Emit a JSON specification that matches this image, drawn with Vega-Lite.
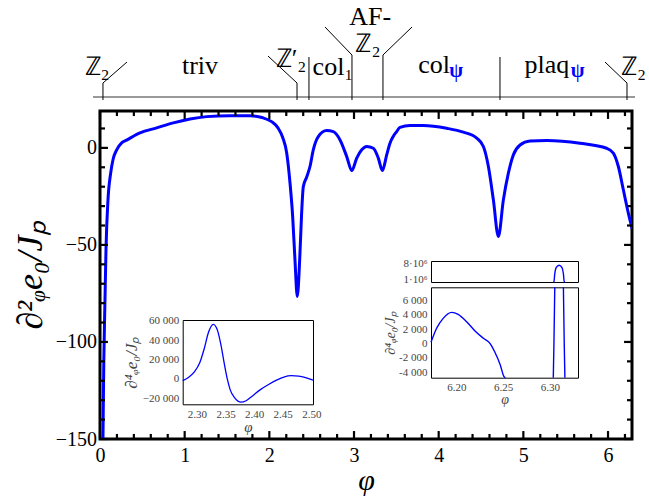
{
  "$schema": "https://vega.github.io/schema/vega-lite/v6.json",
  "width": 532,
  "height": 328,
  "autosize": "none",
  "padding": {"left": 100, "top": 111, "right": 17, "bottom": 57},
  "background": "white",
  "config": {
    "view": {"stroke": "black", "strokeWidth": 3},
    "font": "Liberation Serif",
    "axis": {"grid": false, "labelFont": "Liberation Serif", "titleFont": "Liberation Serif", "titleFontWeight": "normal", "labelOverlap": false, "labelFlush": false},
    "text": {"font": "Liberation Serif"}
  },
  "datasets": {
    "main": [
      {"phi": 0.030, "v": -170}, {"phi": 0.035, "v": -150}, {"phi": 0.045, "v": -110}, {"phi": 0.059, "v": -78},
      {"phi": 0.071, "v": -52}, {"phi": 0.094, "v": -27}, {"phi": 0.126, "v": -13}, {"phi": 0.154, "v": -6},
      {"phi": 0.197, "v": -1}, {"phi": 0.256, "v": 2.6}, {"phi": 0.315, "v": 4}, {"phi": 0.472, "v": 7.7},
      {"phi": 0.669, "v": 10.3}, {"phi": 0.866, "v": 12.9}, {"phi": 1.063, "v": 14.9}, {"phi": 1.260, "v": 16.1},
      {"phi": 1.535, "v": 16.6}, {"phi": 1.772, "v": 16.5}, {"phi": 1.925, "v": 15.5}, {"phi": 2.027, "v": 13.5},
      {"phi": 2.102, "v": 10.3}, {"phi": 2.161, "v": 5}, {"phi": 2.205, "v": -2.6}, {"phi": 2.244, "v": -18},
      {"phi": 2.275, "v": -35}, {"phi": 2.303, "v": -58}, {"phi": 2.330, "v": -76.6}, {"phi": 2.358, "v": -58},
      {"phi": 2.380, "v": -35}, {"phi": 2.401, "v": -20}, {"phi": 2.441, "v": -15}, {"phi": 2.480, "v": -9.6},
      {"phi": 2.519, "v": -1}, {"phi": 2.578, "v": 5.8}, {"phi": 2.677, "v": 8.9}, {"phi": 2.756, "v": 8.4},
      {"phi": 2.835, "v": 4.1}, {"phi": 2.914, "v": -4.5}, {"phi": 2.973, "v": -11.7}, {"phi": 3.032, "v": -5.3},
      {"phi": 3.091, "v": -1}, {"phi": 3.150, "v": 0.7}, {"phi": 3.228, "v": -0.2}, {"phi": 3.287, "v": -5.3},
      {"phi": 3.335, "v": -11.7}, {"phi": 3.386, "v": -3.6}, {"phi": 3.425, "v": 2.4}, {"phi": 3.465, "v": 6},
      {"phi": 3.504, "v": 8.4}, {"phi": 3.543, "v": 10.6}, {"phi": 3.661, "v": 11.5}, {"phi": 3.819, "v": 11.5},
      {"phi": 4.094, "v": 10.1}, {"phi": 4.291, "v": 8.1}, {"phi": 4.449, "v": 5}, {"phi": 4.528, "v": 0.7},
      {"phi": 4.587, "v": -9.6}, {"phi": 4.646, "v": -26.8}, {"phi": 4.705, "v": -45.7}, {"phi": 4.764, "v": -26.8},
      {"phi": 4.823, "v": -13}, {"phi": 4.882, "v": -3.6}, {"phi": 4.961, "v": 1.5}, {"phi": 5.079, "v": 3.6},
      {"phi": 5.276, "v": 3.8}, {"phi": 5.669, "v": 2.4}, {"phi": 5.984, "v": -0.2}, {"phi": 6.063, "v": -2.7},
      {"phi": 6.122, "v": -9.6}, {"phi": 6.181, "v": -21.6}, {"phi": 6.240, "v": -33.6}, {"phi": 6.287, "v": -42}
    ],
    "xMajor": [{"t": 0}, {"t": 1}, {"t": 2}, {"t": 3}, {"t": 4}, {"t": 5}, {"t": 6}],
    "xMinor": [
      {"t": 0.2}, {"t": 0.4}, {"t": 0.6}, {"t": 0.8}, {"t": 1.2}, {"t": 1.4}, {"t": 1.6}, {"t": 1.8},
      {"t": 2.2}, {"t": 2.4}, {"t": 2.6}, {"t": 2.8}, {"t": 3.2}, {"t": 3.4}, {"t": 3.6}, {"t": 3.8},
      {"t": 4.2}, {"t": 4.4}, {"t": 4.6}, {"t": 4.8}, {"t": 5.2}, {"t": 5.4}, {"t": 5.6}, {"t": 5.8}, {"t": 6.2}
    ],
    "yMajor": [{"t": -150}, {"t": -100}, {"t": -50}, {"t": 0}],
    "yMinor": [
      {"t": -140}, {"t": -130}, {"t": -120}, {"t": -110}, {"t": -90}, {"t": -80}, {"t": -70}, {"t": -60},
      {"t": -40}, {"t": -30}, {"t": -20}, {"t": -10}, {"t": 10}
    ],
    "ins1": [
      {"phi": 2.275, "v": -1700}, {"phi": 2.285, "v": 1500}, {"phi": 2.295, "v": 7000}, {"phi": 2.305, "v": 17000},
      {"phi": 2.313, "v": 32000}, {"phi": 2.320, "v": 48000}, {"phi": 2.3285, "v": 56500}, {"phi": 2.336, "v": 50000},
      {"phi": 2.342, "v": 35000}, {"phi": 2.348, "v": 15000}, {"phi": 2.353, "v": 0}, {"phi": 2.358, "v": -11000},
      {"phi": 2.366, "v": -19500}, {"phi": 2.377, "v": -24000}, {"phi": 2.386, "v": -22500}, {"phi": 2.397, "v": -17500},
      {"phi": 2.411, "v": -11000}, {"phi": 2.426, "v": -5500}, {"phi": 2.440, "v": -1000}, {"phi": 2.452, "v": 2000},
      {"phi": 2.465, "v": 3400}, {"phi": 2.478, "v": 3000}, {"phi": 2.490, "v": 1500}, {"phi": 2.503, "v": -1200}
    ],
    "ins2": [
      {"phi": 6.173, "v": 170, "s": "curve"}, {"phi": 6.179, "v": 2130, "s": "curve"}, {"phi": 6.186, "v": 3520, "s": "curve"},
      {"phi": 6.195, "v": 4360, "s": "curve"}, {"phi": 6.202, "v": 4080, "s": "curve"}, {"phi": 6.211, "v": 3050, "s": "curve"},
      {"phi": 6.220, "v": 1750, "s": "curve"}, {"phi": 6.229, "v": 730, "s": "curve"}, {"phi": 6.236, "v": 30, "s": "curve"},
      {"phi": 6.241, "v": -1150, "s": "curve"}, {"phi": 6.247, "v": -3000, "s": "curve"}, {"phi": 6.251, "v": -4640, "s": "curve"},
      {"phi": 6.2525, "v": -5600, "s": "curve"},
      {"phi": 6.3036, "v": -6000000, "s": "rise"}, {"phi": 6.3043, "v": 0, "s": "rise"}, {"phi": 6.3052, "v": 3500000, "s": "rise"},
      {"phi": 6.3068, "v": 6300000, "s": "top"}, {"phi": 6.3098, "v": 7300000, "s": "top"}, {"phi": 6.3128, "v": 6300000, "s": "top"},
      {"phi": 6.3144, "v": 3500000, "s": "fall"}, {"phi": 6.3153, "v": 0, "s": "fall"}, {"phi": 6.3160, "v": -6000000, "s": "fall"}
    ],
    "phaseLine": [{"p1": -0.083, "p2": 6.319, "l": 0}],
    "phaseTicks": [
      {"p1": 0.035, "l1": -3, "p2": 0.035, "l2": 14}, {"p1": 0.035, "l1": 14, "p2": 0.319, "l2": 35},
      {"p1": 2.327, "l1": -3, "p2": 2.327, "l2": 14}, {"p1": 2.327, "l1": 14, "p2": 1.984, "l2": 41},
      {"p1": 2.468, "l1": -3, "p2": 2.468, "l2": 40},
      {"p1": 2.976, "l1": -3, "p2": 2.976, "l2": 42}, {"p1": 2.976, "l1": 42, "p2": 2.657, "l2": 70},
      {"p1": 3.342, "l1": -3, "p2": 3.342, "l2": 42}, {"p1": 3.342, "l1": 42, "p2": 3.685, "l2": 70},
      {"p1": 4.724, "l1": -3, "p2": 4.724, "l2": 40},
      {"p1": 6.224, "l1": -3, "p2": 6.224, "l2": 14}, {"p1": 6.224, "l1": 14, "p2": 5.964, "l2": 35}
    ],
    "phaseLabels": [
      {"p": -0.035, "l": 22, "t": "ℤ₂"},
      {"p": 1.181, "l": 23, "t": "triv"},
      {"p": 2.256, "l": 30, "t": "ℤ′₂"},
      {"p": 2.752, "l": 22, "t": "col₁"},
      {"p": 3.19, "l": 72, "t": "AF-"},
      {"p": 3.165, "l": 45, "t": "ℤ₂"},
      {"p": 3.945, "l": 24, "t": "col"},
      {"p": 5.279, "l": 24, "t": "plaq"},
      {"p": 6.30, "l": 22, "t": "ℤ₂"}
    ],
    "phaseSubs": [
      {"p": 4.205, "l": 20, "t": "ψ"},
      {"p": 5.64, "l": 20, "t": "ψ"}
    ]
  },
  "resolve": {"scale": {"x": "independent", "y": "independent"}},
  "layer": [
    {
      "data": {"name": "main"},
      "mark": {"type": "line", "color": "#0000ff", "strokeWidth": 3, "clip": true, "interpolate": "monotone"},
      "encoding": {
        "x": {"field": "phi", "type": "quantitative", "scale": {"domain": [0, 6.2832], "nice": false, "zero": false},
          "axis": {"orient": "bottom", "values": [0,1,2,3,4,5,6], "format": "d",
            "ticks": false, "domain": false, "labelFontSize": 20, "labelColor": "black", "labelPadding": 6,
            "title": "φ", "titleFontSize": 30, "titleFontStyle": "italic", "titleColor": "black", "titlePadding": 0}},
        "y": {"field": "v", "type": "quantitative", "scale": {"domain": [-150, 19], "nice": false, "zero": false},
          "axis": {"orient": "left", "values": [-150,-100,-50,0],
            "ticks": false, "domain": false, "labelFontSize": 20, "labelColor": "black", "labelPadding": 3.5,
            "title": "∂²ᵩe₀/Jₚ", "titleFontSize": 36, "titleFontStyle": "italic", "titleColor": "black", "titlePadding": 6}}
      }
    },
    {
      "data": {"name": "xMajor"},
      "mark": {"type": "rule", "color": "black", "strokeWidth": 2.2},
      "encoding": {
        "x": {"field": "t", "type": "quantitative", "scale": {"domain": [0, 6.2832], "nice": false, "zero": false}, "axis": null},
        "y": {"datum": -150, "type": "quantitative", "scale": {"domain": [-150, 19], "nice": false, "zero": false}, "axis": null},
        "y2": {"datum": -145.9}
      }
    },
    {
      "data": {"name": "xMajor"},
      "mark": {"type": "rule", "color": "black", "strokeWidth": 2.2},
      "encoding": {
        "x": {"field": "t", "type": "quantitative", "scale": {"domain": [0, 6.2832], "nice": false, "zero": false}, "axis": null},
        "y": {"datum": 19, "type": "quantitative", "scale": {"domain": [-150, 19], "nice": false, "zero": false}, "axis": null},
        "y2": {"datum": 14.9}
      }
    },
    {
      "data": {"name": "xMinor"},
      "mark": {"type": "rule", "color": "black", "strokeWidth": 2.2},
      "encoding": {
        "x": {"field": "t", "type": "quantitative", "scale": {"domain": [0, 6.2832], "nice": false, "zero": false}, "axis": null},
        "y": {"datum": -150, "type": "quantitative", "scale": {"domain": [-150, 19], "nice": false, "zero": false}, "axis": null},
        "y2": {"datum": -147.4}
      }
    },
    {
      "data": {"name": "xMinor"},
      "mark": {"type": "rule", "color": "black", "strokeWidth": 2.2},
      "encoding": {
        "x": {"field": "t", "type": "quantitative", "scale": {"domain": [0, 6.2832], "nice": false, "zero": false}, "axis": null},
        "y": {"datum": 19, "type": "quantitative", "scale": {"domain": [-150, 19], "nice": false, "zero": false}, "axis": null},
        "y2": {"datum": 16.4}
      }
    },
    {
      "data": {"name": "yMajor"},
      "mark": {"type": "rule", "color": "black", "strokeWidth": 2.2},
      "encoding": {
        "y": {"field": "t", "type": "quantitative", "scale": {"domain": [-150, 19], "nice": false, "zero": false}, "axis": null},
        "x": {"datum": 0, "type": "quantitative", "scale": {"domain": [0, 6.2832], "nice": false, "zero": false}, "axis": null},
        "x2": {"datum": 0.094}
      }
    },
    {
      "data": {"name": "yMajor"},
      "mark": {"type": "rule", "color": "black", "strokeWidth": 2.2},
      "encoding": {
        "y": {"field": "t", "type": "quantitative", "scale": {"domain": [-150, 19], "nice": false, "zero": false}, "axis": null},
        "x": {"datum": 6.2832, "type": "quantitative", "scale": {"domain": [0, 6.2832], "nice": false, "zero": false}, "axis": null},
        "x2": {"datum": 6.1892}
      }
    },
    {
      "data": {"name": "yMinor"},
      "mark": {"type": "rule", "color": "black", "strokeWidth": 2.2},
      "encoding": {
        "y": {"field": "t", "type": "quantitative", "scale": {"domain": [-150, 19], "nice": false, "zero": false}, "axis": null},
        "x": {"datum": 0, "type": "quantitative", "scale": {"domain": [0, 6.2832], "nice": false, "zero": false}, "axis": null},
        "x2": {"datum": 0.059}
      }
    },
    {
      "data": {"name": "yMinor"},
      "mark": {"type": "rule", "color": "black", "strokeWidth": 2.2},
      "encoding": {
        "y": {"field": "t", "type": "quantitative", "scale": {"domain": [-150, 19], "nice": false, "zero": false}, "axis": null},
        "x": {"datum": 6.2832, "type": "quantitative", "scale": {"domain": [0, 6.2832], "nice": false, "zero": false}, "axis": null},
        "x2": {"datum": 6.2242}
      }
    },
    {
      "data": {"name": "phaseLine"},
      "mark": {"type": "rule", "color": "#777777", "strokeWidth": 1.6},
      "encoding": {
        "x": {"field": "p1", "type": "quantitative", "scale": {"domain": [0, 6.2832], "nice": false, "zero": false}, "axis": null},
        "x2": {"field": "p2"},
        "y": {"field": "l", "type": "quantitative", "scale": {"domain": [0, 100], "range": [-14, -114], "nice": false, "zero": false}, "axis": null}
      }
    },
    {
      "data": {"name": "phaseTicks"},
      "mark": {"type": "rule", "color": "black", "strokeWidth": 1},
      "encoding": {
        "x": {"field": "p1", "type": "quantitative", "scale": {"domain": [0, 6.2832], "nice": false, "zero": false}, "axis": null},
        "x2": {"field": "p2"},
        "y": {"field": "l1", "type": "quantitative", "scale": {"domain": [0, 100], "range": [-14, -114], "nice": false, "zero": false}, "axis": null},
        "y2": {"field": "l2"}
      }
    },
    {
      "data": {"name": "phaseLabels"},
      "mark": {"type": "text", "fontSize": 26, "align": "center", "baseline": "alphabetic", "color": "black", "font": "Liberation Serif"},
      "encoding": {
        "x": {"field": "p", "type": "quantitative", "scale": {"domain": [0, 6.2832], "nice": false, "zero": false}, "axis": null},
        "y": {"field": "l", "type": "quantitative", "scale": {"domain": [0, 100], "range": [-14, -114], "nice": false, "zero": false}, "axis": null},
        "text": {"field": "t"}
      }
    },
    {
      "data": {"name": "phaseSubs"},
      "mark": {"type": "text", "fontSize": 20, "fontWeight": "bold", "align": "center", "baseline": "alphabetic", "color": "#0000ff", "font": "Liberation Serif"},
      "encoding": {
        "x": {"field": "p", "type": "quantitative", "scale": {"domain": [0, 6.2832], "nice": false, "zero": false}, "axis": null},
        "y": {"field": "l", "type": "quantitative", "scale": {"domain": [0, 100], "range": [-14, -114], "nice": false, "zero": false}, "axis": null},
        "text": {"field": "t"}
      }
    },
    {
      "data": {"name": "ins1"},
      "mark": {"type": "line", "color": "#0000ff", "strokeWidth": 1.3, "interpolate": "monotone"},
      "encoding": {
        "x": {"field": "phi", "type": "quantitative", "scale": {"domain": [2.275, 2.503], "range": [82.7, 213], "nice": false, "zero": false},
          "axis": {"orient": "bottom", "offset": -34.7, "values": [2.3,2.35,2.4,2.45,2.5], "format": ".2f",
            "ticks": false, "domain": true, "domainColor": "black", "domainWidth": 1, "labelFontSize": 11, "labelColor": "#444444", "labelPadding": 4,
            "title": "φ", "titleFontSize": 15, "titleFontStyle": "italic", "titleColor": "#444444", "titlePadding": 0}},
        "y": {"field": "v", "type": "quantitative", "scale": {"domain": [-26200, 61000], "range": [293.3, 209], "nice": false, "zero": false},
          "axis": {"orient": "left", "offset": -82.7, "values": [-20000,0,20000,40000,60000],
            "labelExpr": "replace(format(datum.value, ','), ',', ' ')",
            "ticks": false, "domain": true, "domainColor": "black", "domainWidth": 1, "labelFontSize": 11, "labelColor": "#444444", "labelPadding": 4,
            "title": "∂⁴ᵩe₀/Jₚ", "titleFontSize": 17, "titleFontStyle": "italic", "titleColor": "#444444", "titlePadding": 2}}
      }
    },
    {
      "data": {"name": "ins1"},
      "mark": {"type": "point", "opacity": 0},
      "encoding": {
        "x": {"field": "phi", "type": "quantitative", "scale": {"domain": [2.275, 2.503], "range": [82.7, 213], "nice": false, "zero": false},
          "axis": {"orient": "top", "offset": -209, "labels": false, "ticks": false, "domain": true, "domainColor": "black", "domainWidth": 1, "title": null}},
        "y": {"field": "v", "type": "quantitative", "scale": {"domain": [-26200, 61000], "range": [293.3, 209], "nice": false, "zero": false},
          "axis": {"orient": "right", "offset": -319, "labels": false, "ticks": false, "domain": true, "domainColor": "black", "domainWidth": 1, "title": null}}
      }
    },
    {
      "data": {"name": "ins2"},
      "transform": [{"filter": "datum.s != 'top'"}],
      "mark": {"type": "line", "color": "#0000ff", "strokeWidth": 1.4, "interpolate": "monotone"},
      "encoding": {
        "detail": {"field": "s"},
        "x": {"field": "phi", "type": "quantitative", "scale": {"domain": [6.173, 6.33], "range": [331, 478], "nice": false, "zero": false},
          "axis": {"orient": "bottom", "offset": -61.3, "values": [6.2,6.25,6.3], "format": ".2f",
            "ticks": false, "domain": true, "domainColor": "black", "domainWidth": 1, "labelFontSize": 11, "labelColor": "#444444", "labelPadding": 4,
            "title": "φ", "titleFontSize": 14, "titleFontStyle": "italic", "titleColor": "#444444", "titlePadding": 0}},
        "y": {"field": "v", "type": "quantitative", "scale": {"domain": [-4780, 7860], "range": [266.7, 176.3], "nice": false, "zero": false, "clamp": true},
          "axis": {"orient": "left", "offset": -331, "values": [-4000,-2000,0,2000,4000,6000],
            "labelExpr": "replace(replace(format(datum.value, ','), ',', ' '), '−', '-')",
            "ticks": false, "domain": true, "domainColor": "black", "domainWidth": 1, "labelFontSize": 11, "labelColor": "#444444", "labelPadding": 4,
            "title": "∂⁴ᵩe₀/Jₚ", "titleFontSize": 14, "titleFontStyle": "italic", "titleColor": "#444444", "titlePadding": 1}}
      }
    },
    {
      "data": {"name": "ins2"},
      "mark": {"type": "point", "opacity": 0},
      "encoding": {
        "x": {"field": "phi", "type": "quantitative", "scale": {"domain": [6.173, 6.33], "range": [331, 478], "nice": false, "zero": false},
          "axis": {"orient": "top", "offset": -176.3, "labels": false, "ticks": false, "domain": true, "domainColor": "black", "domainWidth": 1, "title": null}},
        "y": {"field": "v", "type": "quantitative", "scale": {"domain": [-4780, 7860], "range": [266.7, 176.3], "nice": false, "zero": false, "clamp": true},
          "axis": {"orient": "right", "offset": -54, "labels": false, "ticks": false, "domain": true, "domainColor": "black", "domainWidth": 1, "title": null}}
      }
    },
    {
      "data": {"name": "ins2"},
      "transform": [{"filter": "datum.s != 'curve'"}],
      "mark": {"type": "line", "color": "#0000ff", "strokeWidth": 1.4, "interpolate": "monotone"},
      "encoding": {
        "x": {"field": "phi", "type": "quantitative", "scale": {"domain": [6.173, 6.33], "range": [331, 478], "nice": false, "zero": false},
          "axis": {"orient": "bottom", "offset": -157, "labels": false, "ticks": false, "domain": true, "domainColor": "black", "domainWidth": 1, "title": null}},
        "y": {"field": "v", "type": "quantitative", "scale": {"domain": [-200000, 9200000], "range": [171, 150], "nice": false, "zero": false, "clamp": true},
          "axis": {"orient": "left", "offset": -331, "values": [1000000, 8000000],
            "labelExpr": "datum.value == 8000000 ? '8·10⁶' : '1·10⁶'",
            "ticks": false, "domain": true, "domainColor": "black", "domainWidth": 1, "labelFontSize": 11, "labelColor": "#444444", "labelPadding": 4, "title": null}}
      }
    },
    {
      "data": {"name": "ins2"},
      "mark": {"type": "point", "opacity": 0},
      "encoding": {
        "x": {"field": "phi", "type": "quantitative", "scale": {"domain": [6.173, 6.33], "range": [331, 478], "nice": false, "zero": false},
          "axis": {"orient": "top", "offset": -150, "labels": false, "ticks": false, "domain": true, "domainColor": "black", "domainWidth": 1, "title": null}},
        "y": {"field": "v", "type": "quantitative", "scale": {"domain": [-200000, 9200000], "range": [171, 150], "nice": false, "zero": false, "clamp": true},
          "axis": {"orient": "right", "offset": -54, "labels": false, "ticks": false, "domain": true, "domainColor": "black", "domainWidth": 1, "title": null}}
      }
    }
  ]
}
